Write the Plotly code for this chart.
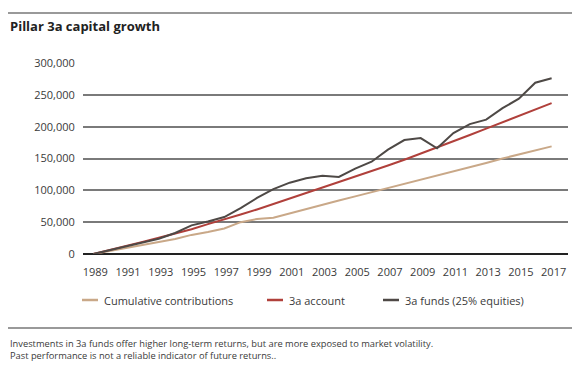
import plotly.graph_objects as go

years = list(range(1989, 2018))
contributions = [0, 5000, 10000, 14500, 19000, 23500, 30000, 34500, 40000, 50000, 55000, 57000,
                 64000, 71000, 77500, 84000, 90500, 97000, 103000, 110000, 117000, 123000,
                 130000, 136000, 143000, 150000, 156000, 163000, 169000]
account = [0, 6000, 12500, 19000, 25500, 32000, 39000, 47000, 54000, 62000, 70000, 78500,
           87000, 96000, 104500, 113000, 121500, 130000, 139000, 148000, 157500, 167000,
           177000, 187000, 197000, 207000, 217000, 227000, 237000]
funds = [0, 6000, 12500, 18500, 24000, 33000, 45000, 51000, 58000, 72000, 88000, 102000,
         112000, 119000, 123000, 121000, 134000, 145000, 164000, 179000, 182000, 166000,
         190000, 204000, 211000, 229000, 244000, 269000, 276000]
series_names = ["Cumulative contributions", "3a account", "3a funds (25% equities)"]
series_colors = ["#c9a888", "#b0403b", "#4e4946"]
x_ticks = list(range(1989, 2018, 2))
y_ticks = list(range(0, 300001, 50000))
title = "Pillar 3a capital growth"
notes = ["Investments in 3a funds offer higher long-term returns, but are more exposed to market volatility.",
         "Past performance is not a reliable indicator of future returns.."]

W, H = 580, 371
OFF = 8  # page body margin offset
ML, MR, MT = 83 - OFF, 20, 63 - OFF
MB = H - (254 - OFF)
PW, PH = W - ML - MR, H - MT - MB


def px(x):
    return (x - OFF - ML) / PW


def py(y):
    return (H - MB - (y - OFF)) / PH


FONT = "Open Sans"
TXT = "#3a3a3a"

fig = go.Figure()
for vals, name, col in zip([contributions, account, funds], series_names, series_colors):
    fig.add_trace(go.Scatter(x=years, y=vals, name=name, mode="lines",
                             line=dict(color=col, width=2), showlegend=False))

shapes = []
annotations = []
for yy in (13, 328):
    shapes.append(dict(type="line", xref="paper", yref="paper", x0=px(8), x1=px(575),
                       y0=py(yy), y1=py(yy), line=dict(color="#999999", width=2)))
annotations.append(dict(text="<b>" + title + "</b>", xref="paper", yref="paper", x=px(8), y=py(26),
                        xanchor="left", yanchor="middle", showarrow=False,
                        font=dict(family=FONT, size=13, color="#222")))
leg_x = [82, 267, 383]
for lx, name, col in zip(leg_x, series_names, series_colors):
    shapes.append(dict(type="line", xref="paper", yref="paper", x0=px(lx), x1=px(lx + 16),
                       y0=py(300), y1=py(300), line=dict(color=col, width=2.5)))
    annotations.append(dict(text=name, xref="paper", yref="paper", x=px(lx + 20), y=py(300),
                            xanchor="left", yanchor="middle", showarrow=False,
                            font=dict(family=FONT, size=11, color=TXT)))
for i, note in enumerate(notes):
    annotations.append(dict(text=note, xref="paper", yref="paper", x=px(8), y=py(343 + 12.5 * i),
                            xanchor="left", yanchor="middle", showarrow=False,
                            font=dict(family=FONT, size=9.3, color=TXT)))

fig.update_layout(
    width=W, height=H, margin=dict(l=ML, r=MR, t=MT, b=MB),
    paper_bgcolor="white", plot_bgcolor="white",
    shapes=shapes, annotations=annotations, showlegend=False,
    xaxis=dict(range=[1988.37, 2018.0], tickvals=x_ticks, showgrid=False, zeroline=False,
               showline=False, ticks="outside", ticklen=8, tickcolor="rgba(0,0,0,0)",
               ticklabelshift=2,
               tickfont=dict(family=FONT, size=11, color=TXT)),
    yaxis=dict(range=[0, 300000], tickvals=y_ticks, tickformat=",d", showgrid=True,
               gridcolor="#7a7a7a", gridwidth=1.5, zeroline=True, zerolinecolor="#222",
               zerolinewidth=2, showline=False, ticks="outside", ticklen=5,
               tickcolor="rgba(0,0,0,0)", tickfont=dict(family=FONT, size=11, color=TXT)),
)
fig.write_html("out.html")
